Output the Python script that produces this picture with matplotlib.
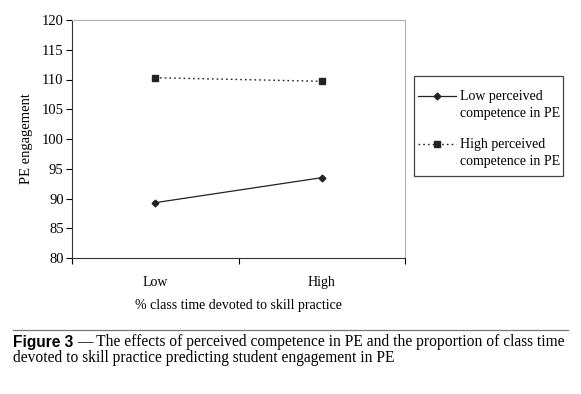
import numpy as np
import matplotlib.pyplot as plt
from matplotlib.lines import Line2D
from matplotlib.patches import Rectangle
from matplotlib.legend_handler import HandlerLine2D

plt.rcParams["font.family"] = ["Liberation Serif", "DejaVu Serif"]

# x categories (plotted at the centres of two unit-wide bins)
skill_levels = ["Low", "High"]
skill_pos = [0.5, 1.5]

low_competence = [89.3, 93.5]
high_competence = [110.3, 109.7]

series_labels = ["Low perceived\ncompetence in PE", "High perceived\ncompetence in PE"]

y_ticks = list(range(80, 121, 5))

W, H = 581, 394


class TopLineHandler(HandlerLine2D):
    # put the legend handle level with the first line of a two-line label
    def create_artists(self, legend, orig_handle, xdescent, ydescent,
                       width, height, fontsize, trans):
        artists = super().create_artists(legend, orig_handle, xdescent, ydescent,
                                         width, height, fontsize, trans)
        for a in artists:
            a.set_ydata(np.asarray(a.get_ydata()) + 0.7 * fontsize)
        return artists


fig = plt.figure(figsize=(W / 100, H / 100), dpi=100)
ax = fig.add_axes([72 / W, 1 - 258 / H, 333 / W, 238 / H])

ax.plot(skill_pos, low_competence, color="#222222", linestyle="-", linewidth=0.9,
        marker="D", markersize=3.4, label=series_labels[0])
ax.plot(skill_pos, high_competence, color="#222222", linestyle=(0, (1.2, 2.2)),
        linewidth=1.0, marker="s", markersize=4.0, label=series_labels[1])

ax.set_xlim(0, 2)
ax.set_ylim(80, 120)
ax.set_yticks(y_ticks)
ax.set_xticks([0, 1, 2])
ax.set_xticklabels([])
ax.set_xticks(skill_pos, minor=True)
ax.set_xticklabels(skill_levels, minor=True)
ax.tick_params(axis="x", which="minor", length=0, pad=13, labelsize=10)
ax.tick_params(axis="x", which="major", length=4, width=0.8, direction="out")
ax.tick_params(axis="y", length=4, width=0.8, direction="out", labelsize=10.5, pad=2)

for side in ("top", "right"):
    ax.spines[side].set_color("#b0b0b0")
for side in ("left", "bottom"):
    ax.spines[side].set_color("#333333")

ax.set_ylabel("PE engagement", fontsize=10.5, labelpad=6)
ax.set_xlabel("% class time devoted to skill practice", fontsize=10, labelpad=7)

# legend contents without frame, box drawn separately (text overflows it a bit)
leg = fig.legend(loc="upper left", bbox_to_anchor=(418 / W, 1 - 90 / H),
                 fontsize=10, frameon=False,
                 handlelength=2.75, handletextpad=0.3, labelspacing=1.25,
                 borderpad=0, borderaxespad=0,
                 handler_map={Line2D: TopLineHandler()})
for txt in leg.get_texts():
    txt.set_linespacing(1.45)
fig.add_artist(Rectangle((414 / W, 1 - 176 / H), 149 / W, 100 / H,
                         transform=fig.transFigure, fill=False,
                         edgecolor="#444444", linewidth=0.9))

# caption block
fig.add_artist(Line2D([13 / W, 568 / W], [1 - 330 / H, 1 - 330 / H],
                      color="#777777", linewidth=0.9))
t1 = fig.text(13 / W, 1 - 342 / H, "Figure 3", fontsize=11.2, fontweight="bold",
              family=["Liberation Sans", "DejaVu Sans"], va="center")
fig.canvas.draw()
bb = t1.get_window_extent()
fig.text(bb.x1 / W + 4 / W, 1 - 342 / H,
         "\u2014 The effects of perceived competence in PE and the proportion of class time",
         fontsize=11.2, va="center")
fig.text(13 / W, 1 - 358 / H,
         "devoted to skill practice predicting student engagement in PE",
         fontsize=11.2, va="center")

fig.savefig("out.png", dpi=100)
